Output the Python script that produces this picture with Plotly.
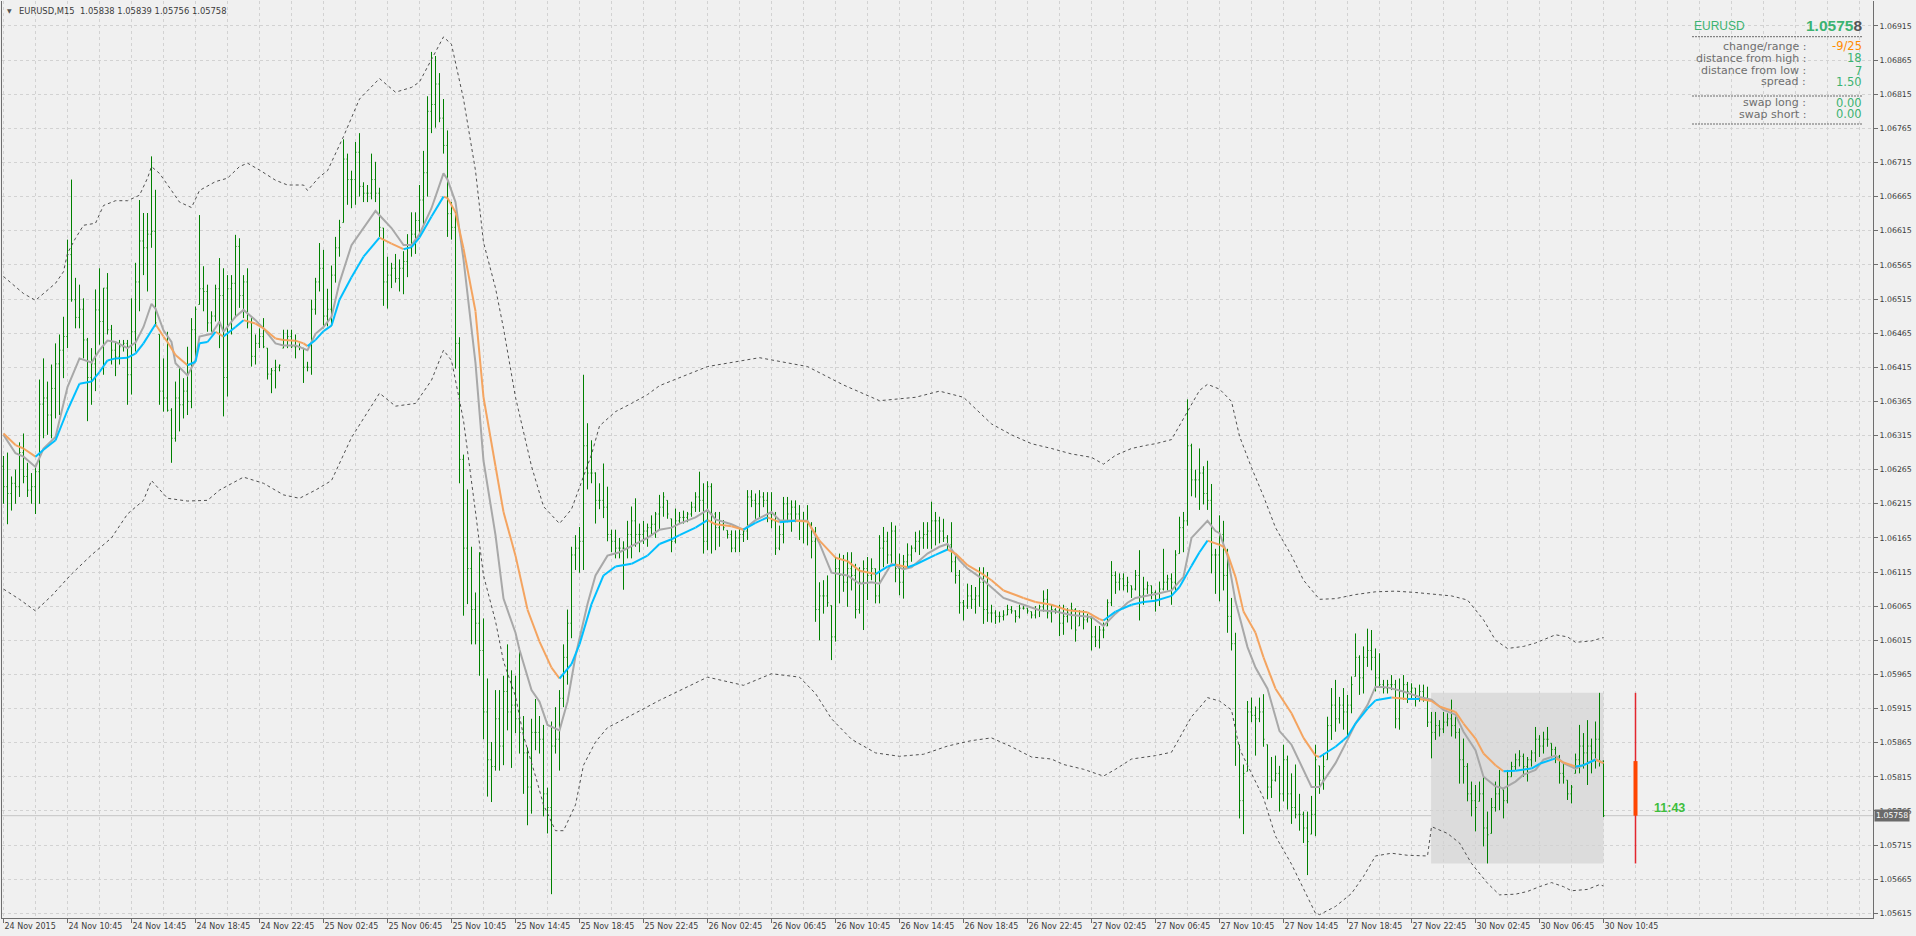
import plotly.graph_objects as go

# ---------------- canvas / plot-area geometry (pixels) ----------------
W, H = 1916, 936
PL, PR, PT, PB = 2, 1873, 1, 918

# ---------------- chart data (prices in points, 1 point = 0.00001) ----------------
symbol = "EURUSD"
timeframe = "M15"

time_labels = ["24 Nov 2015", "24 Nov 10:45", "24 Nov 14:45", "24 Nov 18:45", "24 Nov 22:45",
               "25 Nov 02:45", "25 Nov 06:45", "25 Nov 10:45", "25 Nov 14:45", "25 Nov 18:45",
               "25 Nov 22:45", "26 Nov 02:45", "26 Nov 06:45", "26 Nov 10:45", "26 Nov 14:45",
               "26 Nov 18:45", "26 Nov 22:45", "27 Nov 02:45", "27 Nov 06:45", "27 Nov 10:45",
               "27 Nov 14:45", "27 Nov 18:45", "27 Nov 22:45", "30 Nov 02:45", "30 Nov 06:45",
               "30 Nov 10:45"]
bars_per_label = 16

open_pts = [
106270,106240,106230,106245,106240,106290,106255,106235,106240,106262,
106361,106370,106345,106384,106420,106440,106460,106580,106514,106488,
106500,106455,106400,106420,106499,106482,106531,106470,106440,106430,
106445,106450,106404,106467,106540,106600,106590,106610,106614,106463,
106380,106370,106352,106311,106370,106360,106380,106365,106470,106507,
106530,106526,106480,106490,106530,106520,106400,106530,106538,106592,
106520,106540,106480,106431,106450,106460,106443,106405,106410,106415,
106443,106455,106460,106445,106445,106443,106415,106415,106500,106540,
106560,106490,106500,106550,106590,106627,106720,106690,106690,106730,
106680,106670,106670,106690,106670,106619,106540,106550,106560,106545,
106560,106570,106590,106610,106630,106660,106700,106790,106800,106830,
106780,106740,106640,106620,106450,106280,106150,106120,106060,106040,
106000,105910,105840,105830,105900,105860,105940,105910,105920,105900,
105880,105850,105800,105880,105880,105870,105790,105770,105860,105870,
105930,105990,106040,106140,106150,106160,106300,106260,106260,106220,
106220,106210,106170,106160,106150,106150,106150,106170,106190,106170,
106170,106175,106180,106185,106200,106210,106220,106193,106160,106190,
106195,106195,106200,106210,106225,106220,106160,106240,106200,106180,
106185,106176,106170,106150,106165,106170,106175,106225,106220,106215,
106225,106220,106200,106190,106150,106170,106215,106200,106210,106200,
106190,106190,106185,106160,106060,106080,106080,106066,106020,106120,
106110,106100,106120,106110,106060,106100,106120,106110,106120,106080,
106150,106160,106140,106175,106120,106100,106130,106140,106150,106160,
106165,106170,106175,106190,106190,106175,106165,106155,106130,106110,
106070,106065,106080,106075,106080,106100,106060,106055,106055,106050,
106050,106052,106060,106058,106050,106062,106062,106057,106052,106060,
106064,106075,106055,106060,106058,106040,106050,106055,106060,106036,
106050,106045,106047,106020,106015,106030,106036,106070,106110,106100,
106105,106095,106095,106090,106110,106080,106090,106095,106085,106075,
106090,106100,106105,106100,106142,106180,106190,106300,106250,106250,
106260,106230,106220,106140,106140,106170,106110,106050,106010,105862,
105780,105823,105910,105905,105900,105910,105862,105800,105810,105820,
105790,105840,105790,105770,105760,105760,105740,105731,105760,105831,
105810,105840,105890,105920,105900,105920,105910,105920,105962,105990,
105960,105990,106000,105990,105960,105950,105945,105950,105950,105900,
105940,105950,105940,105945,105930,105940,105930,105895,105880,105890,
105885,105895,105900,105890,105880,105840,105830,105790,105780,105779,
105790,105740,105732,105770,105790,105796,105780,105815,105830,105840,
105845,105830,105840,105850,105870,105860,105870,105864,105855,105845,
105820,105810,105790,105820,105840,105860,105850,105860,105850,105870,
105838]

high_pts = [
106285,106290,106255,106265,106305,106318,106275,106260,106272,106397,
106428,106394,106419,106450,106463,106489,106602,106690,106546,106536,
106516,106458,106443,106529,106560,106531,106553,106477,106453,106455,
106455,106455,106516,106568,106660,106641,106641,106724,106675,106463,
106428,106467,106355,106394,106414,106399,106445,106487,106504,106638,
106563,106536,106497,106536,106575,106560,106550,106550,106609,106604,
106550,106560,106487,106463,106472,106487,106443,106414,106426,106419,
106470,106470,106470,106463,106450,106443,106423,106514,106546,106597,
106587,106530,106564,106606,106631,106749,106728,106703,106745,106758,
106686,106682,106728,106716,106678,106619,106577,106568,106581,106573,
106585,106610,106642,106642,106682,106732,106812,106877,106871,106846,
106808,106762,106657,106644,106459,106287,106236,106152,106085,106144,
106047,105959,105866,105942,105942,105963,106009,105971,105963,106005,
105904,105858,105900,105929,105904,105891,105799,105896,105917,105942,
106009,106060,106152,106169,106181,106404,106333,106308,106261,106245,
106274,106240,106177,106177,106165,106160,106190,106211,106223,106186,
106190,106186,106198,106203,106228,106232,106220,106193,106208,106203,
106205,106203,106218,106232,106262,106245,106248,106245,106203,106203,
106191,106176,106176,106176,106181,106179,106235,106235,106230,106235,
106232,106232,106232,106203,106183,106225,106225,106220,106220,106213,
106203,106213,106188,106181,106100,106103,106110,106066,106137,106142,
106140,106144,106144,106127,106122,106132,106137,106135,106120,106169,
106181,106174,106188,106183,106142,106140,106157,106154,106174,106176,
106188,106188,106218,106203,106196,106193,106169,106188,106140,106118,
106074,106098,106096,106093,106122,106122,106115,106067,106059,106057,
106059,106067,106065,106059,106067,106065,106062,106057,106065,106067,
106088,106090,106067,106062,106067,106067,106062,106070,106062,106059,
106059,106054,106047,106036,106036,106041,106075,106131,106116,106113,
106113,106108,106095,106118,106147,106108,106101,106095,106088,106101,
106149,106111,106113,106147,106196,106203,106368,106303,106265,106296,
106270,106278,106244,106149,106198,106190,106149,106077,106026,105862,
105833,105926,105931,105918,105931,105936,105862,105844,105846,105831,
105862,105846,105820,105833,105790,105764,105764,105787,105862,105831,
105849,105903,105945,105957,105932,105945,105935,105962,106025,105993,
106006,106032,106030,106003,105996,105957,105957,105964,105957,105959,
105964,105954,105952,105945,105950,105950,105947,105910,105910,105898,
105910,105908,105928,105903,105886,105871,105835,105808,105803,105808,
105815,105764,105784,105808,105825,105796,105825,105837,105849,105854,
105849,105844,105854,105888,105876,105881,105888,105864,105859,105847,
105835,105810,105803,105849,105891,105879,105898,105871,105896,105938,
105839]

low_pts = [
106215,106185,106205,106215,106225,106245,106225,106215,106200,106215,
106311,106316,106311,106340,106345,106399,106443,106511,106472,106472,
106428,106336,106360,106380,106448,106404,106463,106419,106402,106419,
106438,106360,106375,106438,106497,106550,106526,106590,106475,106360,
106350,106350,106275,106306,106321,106340,106345,106355,106424,106507,
106497,106467,106467,106482,106443,106343,106372,106463,106487,106502,
106487,106472,106416,106419,106443,106443,106397,106377,106384,106409,
106443,106443,106443,106428,106440,106392,106409,106404,106492,106526,
106472,106475,106476,106539,106577,106627,106653,106648,106653,106665,
106657,106657,106661,106657,106606,106505,106501,106531,106539,106526,
106522,106547,106577,106581,106606,106623,106665,106758,106766,106774,
106728,106606,106602,106413,106245,106051,106068,106009,106009,105963,
105870,105786,105778,105824,105824,105832,105883,105828,105879,105849,
105790,105744,105761,105854,105849,105757,105732,105643,105849,105824,
105917,105950,106018,106118,106114,106118,106236,106245,106186,106207,
106194,106160,106144,106135,106135,106089,106135,106135,106152,106144,
106156,106152,106169,106165,106177,106196,106193,106144,106157,106186,
106186,106188,106196,106203,106203,106142,106147,106142,106147,106152,
106176,106164,106144,106144,106144,106159,106162,106210,106193,106193,
106210,106188,106179,106140,106147,106157,106188,106174,106188,106162,
106157,106154,106135,106042,106015,106054,106064,105986,106013,106069,
106086,106064,106088,106047,106054,106030,106074,106103,106069,106069,
106122,106127,106125,106100,106081,106076,106122,106130,106144,106140,
106149,106149,106149,106154,106157,106159,106147,106115,106098,106054,
106044,106061,106061,106054,106064,106039,106042,106041,106039,106041,
106044,106052,106054,106041,106047,106060,106054,106047,106047,106049,
106057,106047,106041,106054,106021,106023,106041,106031,106013,106036,
106031,106041,106000,106005,106003,106018,106036,106065,106083,106088,
106088,106085,106077,106088,106044,106067,106083,106075,106057,106065,
106088,106088,106067,106088,106142,106144,106183,106226,106224,106206,
106214,106206,106113,106083,106072,106088,106026,106000,105831,105754,
105731,105823,105895,105846,105895,105859,105782,105784,105808,105764,
105779,105767,105746,105754,105736,105718,105671,105731,105728,105790,
105796,105840,105869,105881,105893,105884,105874,105908,105962,105935,
105937,105976,105971,105940,105945,105937,105937,105942,105886,105884,
105928,105923,105928,105918,105925,105925,105888,105842,105869,105874,
105879,105889,105874,105871,105805,105805,105779,105757,105735,105779,
105713,105688,105732,105764,105766,105754,105776,105815,105825,105830,
105815,105808,105830,105837,105844,105849,105859,105842,105835,105805,
105805,105781,105776,105820,105820,105827,105803,105820,105827,105830,
105756]

close_pts = [
106240,106230,106245,106240,106290,106255,106235,106240,106262,106361,
106370,106345,106384,106420,106440,106460,106580,106514,106488,106500,
106455,106400,106420,106499,106482,106531,106470,106440,106430,106445,
106450,106404,106467,106540,106600,106590,106610,106614,106480,106380,
106370,106352,106311,106370,106360,106380,106365,106470,106500,106530,
106526,106480,106490,106530,106520,106400,106530,106538,106592,106520,
106540,106480,106431,106450,106460,106445,106405,106410,106415,106418,
106455,106460,106445,106445,106445,106415,106415,106500,106540,106560,
106490,106500,106550,106590,106620,106720,106690,106690,106730,106680,
106670,106670,106690,106670,106620,106540,106550,106560,106545,106560,
106570,106590,106610,106630,106660,106700,106790,106800,106830,106780,
106740,106640,106620,106450,106280,106150,106120,106060,106040,106000,
105910,105840,105830,105900,105860,105940,105910,105920,105900,105880,
105850,105800,105880,105880,105870,105790,105770,105860,105870,105930,
105990,106040,106140,106150,106160,106300,106260,106260,106220,106220,
106210,106170,106160,106150,106150,106150,106170,106190,106170,106170,
106175,106180,106185,106200,106210,106225,106200,106160,106190,106195,
106195,106200,106210,106225,106220,106160,106240,106200,106180,106185,
106180,106170,106150,106165,106170,106175,106225,106220,106215,106225,
106220,106200,106190,106150,106170,106215,106200,106210,106200,106190,
106190,106185,106160,106060,106080,106080,106070,106020,106120,106110,
106100,106120,106110,106060,106100,106120,106110,106120,106080,106150,
106160,106140,106175,106120,106100,106130,106140,106150,106160,106165,
106170,106175,106190,106190,106175,106165,106155,106130,106110,106070,
106065,106080,106075,106080,106100,106060,106055,106055,106050,106050,
106052,106060,106058,106050,106062,106062,106058,106052,106060,106064,
106075,106055,106060,106058,106040,106050,106055,106060,106030,106050,
106045,106048,106020,106015,106030,106030,106070,106110,106100,106105,
106095,106100,106090,106110,106080,106090,106095,106085,106075,106090,
106100,106105,106100,106140,106180,106190,106300,106250,106250,106260,
106230,106220,106140,106140,106170,106110,106050,106010,105870,105780,
105820,105910,105905,105900,105910,105870,105800,105810,105820,105790,
105840,105790,105770,105760,105760,105740,105720,105760,105840,105810,
105830,105890,105920,105900,105920,105910,105920,105950,105990,105960,
105990,106000,105990,105960,105950,105945,105950,105950,105900,105940,
105950,105940,105945,105930,105940,105930,105895,105880,105890,105885,
105895,105900,105890,105880,105840,105830,105790,105780,105770,105790,
105740,105730,105770,105790,105800,105780,105815,105830,105840,105845,
105830,105840,105850,105870,105860,105870,105870,105855,105845,105820,
105815,105790,105800,105840,105860,105850,105860,105850,105870,105838,
105758]

# slow moving average (slope coloured): bar index / value
ma_slow_bar = [0,3,5,8,10,13,16,19,22,24,26,28,31,33,35,38,40,41,43,46,48,49,51,53,55,58,60,63,65,68,
               70,73,75,76,78,80,82,84,87,90,94,97,100,102,104,107,110,111,113,115,118,120,123,125,128,
               131,134,137,139,142,144,147,150,153,157,161,164,167,169,173,176,178,182,185,188,191,194,
               198,201,204,208,211,214,218,221,223,226,228,233,236,238,241,244,247,250,255,258,262,266,
               271,274,275,278,282,285,288,292,294,297,299,301,304,305,306,308,310,313,315,318,322,325,
               328,329,333,335,336,338,341,343,347,351,354,357,359,363,365,368,370,373,375,378,382,384,
               388,390,393,395,398,400]
ma_slow_pts = [106318,106301,106296,106284,106294,106308,106352,106391,106394,106408,106425,106428,106429,
               106435,106450,106478,106460,106452,106433,106418,106423,106450,106452,106467,106460,106474,
               106484,106479,106472,106457,106455,106454,106450,106446,106455,106468,106476,106514,106547,
               106577,106605,106596,106588,106591,106605,106636,106665,106663,106642,106589,106497,106371,
               106270,106203,106139,106060,106013,105975,105959,105980,106009,106068,106110,106123,106127,
               106139,106156,106163,106169,106180,106191,106185,106182,106177,106187,106195,106188,106190,
               106189,106161,106136,106131,106117,106112,106123,106126,106122,106126,106140,106148,106142,
               106125,106115,106103,106088,106077,106071,106067,106059,106056,106046,106044,106057,106067,
               106071,106073,106080,106093,106124,106144,106161,106155,106152,106142,106108,106057,106026,
               105990,105944,105908,105872,105846,105844,105859,105869,105874,105893,105915,105927,105931,
               105929,105929,105926,105918,105910,105893,105871,105849,105832,105823,105824,105827,105834,
               105842,105836,105830,105832,105840,105835]

# fast moving average (grey)
ma_fast_bar = [0,3,5,8,10,13,16,19,22,24,26,28,31,33,35,37,38,40,42,43,46,48,49,52,54,55,58,60,63,65,68,
               70,73,75,76,78,80,82,84,87,90,93,97,100,102,104,107,110,111,113,115,118,120,123,125,128,
               129,132,134,136,139,141,143,146,148,151,154,158,161,164,167,169,173,176,178,182,185,188,
               192,194,198,201,204,207,211,214,217,219,222,225,227,231,234,236,239,241,244,247,250,255,
               259,263,267,272,275,278,281,283,286,289,292,295,297,301,303,304,306,308,311,313,316,319,
               322,325,327,329,333,336,338,341,343,346,350,354,357,360,363,365,368,370,373,375,378,380,
               383,385,388,390,393,395,398,400]
ma_fast_pts = [106316,106289,106284,106269,106296,106313,106386,106428,106422,106440,106454,106452,106443,
               106451,106474,106508,106501,106469,106452,106421,106403,106425,106460,106464,106482,106467,
               106489,106499,106484,106472,106450,106447,106447,106442,106440,106464,106474,106489,106539,
               106594,106619,106644,106619,106594,106594,106610,106648,106699,106690,106657,106573,106421,
               106278,106169,106076,106026,106001,105942,105925,105891,105883,105925,105992,106068,106110,
               106139,106144,106156,106165,106177,106180,106186,106195,106206,106192,106185,106177,106191,
               106203,106191,106191,106190,106157,106114,106110,106098,106100,106098,106127,106119,106122,
               106142,106152,106156,106132,106120,106108,106093,106077,106067,106059,106057,106052,106049,
               106036,106054,106070,106077,106080,106084,106088,106108,106165,106190,106175,106172,106139,
               106072,106005,105975,105944,105882,105862,105826,105800,105800,105835,105869,105893,105920,
               105947,105946,105940,105932,105928,105913,105906,105881,105854,105815,105801,105798,105808,
               105818,105825,105840,105846,105835,105827,105832,105841,105835]

# upper / lower envelope bands
band_up_bar = [0,3,5,8,10,13,15,16,18,20,23,25,28,31,34,36,37,39,42,44,47,49,53,56,59,61,64,68,71,75,76,
               79,81,85,89,94,98,102,104,107,110,112,115,118,120,123,125,128,132,135,139,142,144,147,149,
               153,157,161,164,176,189,195,201,210,219,228,234,240,247,252,257,262,267,272,275,278,282,
               286,288,292,294,297,299,301,304,307,309,312,315,318,322,325,329,333,338,343,348,353,357,
               362,366,370,373,376,380,383,388,391,393,397,400]
band_up_pts = [106548,106533,106523,106513,106523,106538,106555,106582,106604,106623,106626,106652,106659,
               106659,106667,106692,106709,106699,106674,106657,106649,106674,106687,106692,106709,106714,
               106704,106689,106682,106682,106674,106694,106703,106753,106808,106838,106818,106825,106833,
               106867,106899,106888,106808,106703,106598,106531,106472,106371,106270,106211,106186,106207,
               106240,106287,106329,106350,106362,106375,106388,106416,106429,106423,106416,106389,106366,
               106371,106380,106371,106332,106316,106303,106296,106288,106283,106273,106286,106296,106301,
               106303,106309,106329,106360,106381,106390,106383,106365,106314,106268,106226,106180,106139,
               106103,106075,106076,106082,106086,106087,106085,106083,106080,106074,106045,106015,106003,
               106006,106011,106023,106020,106012,106014,106019]
band_dn_bar = [0,4,8,12,17,22,27,31,35,37,41,46,51,54,60,65,70,74,78,82,87,94,98,103,107,110,112,115,118,
               120,123,125,128,130,133,135,138,140,143,145,148,151,154,158,161,164,176,185,192,199,203,
               207,212,218,224,230,236,242,247,252,257,262,265,270,275,278,282,286,288,292,294,297,300,
               301,304,307,309,312,315,318,322,325,328,329,333,337,340,343,347,351,356,357,361,364,367,
               371,374,378,381,384,387,390,392,396,399,400]
band_dn_pts = [106090,106075,106058,106080,106112,106140,106165,106200,106220,106249,106223,106219,106220,
               106235,106254,106245,106228,106223,106235,106249,106312,106377,106358,106362,106396,106440,
               106425,106337,106203,106110,106043,105984,105933,105875,105816,105774,105736,105736,105774,
               105832,105866,105887,105896,105908,105917,105927,105961,105949,105966,105961,105937,105900,
               105870,105850,105845,105848,105860,105868,105872,105859,105844,105841,105833,105826,105816,
               105826,105841,105844,105846,105851,105872,105903,105923,105931,105926,105913,105856,105820,
               105784,105728,105687,105651,105615,105613,105625,105644,105669,105699,105703,105700,105699,
               105742,105732,105718,105688,105659,105642,105643,105647,105654,105660,105654,105648,105650,
               105657,105655]

# info-panel / range values
range_start_bar = 357
range_high = 1.05938
range_low = 1.05688
bar_open, bar_high, bar_low, bar_close = 1.05838, 1.05839, 1.05756, 1.05758
future_bar = 408
timer_text = "11:43"
panel_rows = [("change/range", "-9/25"), ("distance from high", "18"),
              ("distance from low", "7"), ("spread", "1.50")]
swap_rows = [("swap long", "0.00"), ("swap short", "0.00")]

# ---------------- helpers ----------------
P = lambda v: v / 1e5
def px(x):
    return (x - PL) / (PR - PL)
def py(y):
    return (PB - y) / (PB - PT)

Y_MAX, Y_MIN = 1.069516, 1.056081
X_MIN, X_MAX = -0.375, 467.375

n = len(close_pts)
xs = list(range(n))

BG = "#F0F0F0"
GRID = "#D2D2D2"
AXIS = "#6E6E6E"
TXT = "#3C3C3C"
FONT = "DejaVu Sans"

fig = go.Figure()

# envelope bands
fig.add_trace(go.Scatter(x=band_up_bar, y=[P(v) for v in band_up_pts], mode="lines",
                         line=dict(color="#505050", width=1, dash="3px,3px"), hoverinfo="skip"))
fig.add_trace(go.Scatter(x=band_dn_bar, y=[P(v) for v in band_dn_pts], mode="lines",
                         line=dict(color="#505050", width=1, dash="3px,3px"), hoverinfo="skip"))

# price bars
fig.add_trace(go.Ohlc(x=xs, open=[P(v) for v in open_pts], high=[P(v) for v in high_pts],
                      low=[P(v) for v in low_pts], close=[P(v) for v in close_pts],
                      increasing=dict(line=dict(color="#008000", width=1)),
                      decreasing=dict(line=dict(color="#008000", width=1)),
                      tickwidth=0.25, hoverinfo="skip"))

# fast MA
fig.add_trace(go.Scatter(x=ma_fast_bar, y=[P(v) for v in ma_fast_pts], mode="lines",
                         line=dict(color="#A8A8A8", width=2), hoverinfo="skip"))

# slow MA coloured by slope
bx, by, ox, oy = [], [], [], []
for i in range(len(ma_slow_bar) - 1):
    seg_x = [ma_slow_bar[i], ma_slow_bar[i + 1], None]
    seg_y = [P(ma_slow_pts[i]), P(ma_slow_pts[i + 1]), None]
    if ma_slow_pts[i + 1] >= ma_slow_pts[i]:
        bx += seg_x; by += seg_y
    else:
        ox += seg_x; oy += seg_y
fig.add_trace(go.Scatter(x=ox, y=oy, mode="lines", line=dict(color="#F4A460", width=2),
                         connectgaps=False, hoverinfo="skip"))
fig.add_trace(go.Scatter(x=bx, y=by, mode="lines", line=dict(color="#00BFFF", width=2),
                         connectgaps=False, hoverinfo="skip"))

# range / current-bar projection
fig.add_trace(go.Scatter(x=[future_bar, future_bar], y=[range_low, range_high], mode="lines",
                         line=dict(color="#E3262E", width=1.5), hoverinfo="skip"))
fig.add_trace(go.Scatter(x=[future_bar, future_bar], y=[bar_close, bar_open], mode="lines",
                         line=dict(color="#FF4500", width=4), hoverinfo="skip"))

shapes = []
# range rectangle
shapes.append(dict(type="rect", xref="x", yref="y", x0=range_start_bar - 0.1, x1=n - 1,
                   y0=range_low, y1=range_high, fillcolor="#DCDCDC", line=dict(width=0),
                   layer="below"))
# bid line
shapes.append(dict(type="line", xref="paper", yref="y", x0=0, x1=1, y0=bar_close, y1=bar_close,
                   line=dict(color="#C4C4C4", width=1), layer="below"))
# info panel separators
for yy in (36.7, 96, 124):
    shapes.append(dict(type="line", xref="paper", yref="paper", x0=px(1692), x1=px(1863),
                       y0=py(yy), y1=py(yy), line=dict(color="#6A6A6A", width=1, dash="2px,1px")))

ann = []
# header
ann.append(dict(xref="paper", yref="paper", x=px(5), y=py(11), xanchor="left", yanchor="middle",
                text="▼", showarrow=False, font=dict(family=FONT, size=6, color="#555555")))
ann.append(dict(xref="paper", yref="paper", x=px(17), y=py(11.5), xanchor="left", yanchor="middle",
                text=f"{symbol},{timeframe}  {bar_open:.5f} {bar_high:.5f} {bar_low:.5f} {bar_close:.5f}",
                showarrow=False, font=dict(family=FONT, size=8.4, color=TXT)))
# info panel
ann.append(dict(xref="paper", yref="paper", x=px(1692), y=py(26), xanchor="left", yanchor="middle",
                text=symbol, showarrow=False,
                font=dict(family="Liberation Sans", size=12, color="#3CB371")))
price_str = f"{bar_close:.5f}"
ann.append(dict(xref="paper", yref="paper", x=px(1864), y=py(26), xanchor="right", yanchor="middle",
                text=f"<b>{price_str[:-1]}<span style='color:#555555'>{price_str[-1]}</span></b>",
                showarrow=False, font=dict(family="Liberation Sans", size=15.5, color="#3CB371")))
row_y = [46, 58.3, 70.7, 81.7]
for (lab, val), yy in zip(panel_rows, row_y):
    ann.append(dict(xref="paper", yref="paper", x=px(1808), y=py(yy), xanchor="right", yanchor="middle",
                    text=lab + " :", showarrow=False, font=dict(family=FONT, size=11, color="#6E6E6E")))
    col = "#FF8C00" if val.startswith("-") else "#3CB371"
    ann.append(dict(xref="paper", yref="paper", x=px(1864), y=py(yy), xanchor="right", yanchor="middle",
                    text=val, showarrow=False, font=dict(family=FONT, size=11.5, color=col)))
for (lab, val), yy in zip(swap_rows, [102.7, 114.3]):
    ann.append(dict(xref="paper", yref="paper", x=px(1808), y=py(yy), xanchor="right", yanchor="middle",
                    text=lab + " :", showarrow=False, font=dict(family=FONT, size=11, color="#6E6E6E")))
    ann.append(dict(xref="paper", yref="paper", x=px(1864), y=py(yy), xanchor="right", yanchor="middle",
                    text=val, showarrow=False, font=dict(family=FONT, size=11.5, color="#3CB371")))
# current price label on axis
ann.append(dict(xref="paper", yref="y", x=px(1874), y=bar_close, xanchor="left", yanchor="middle",
                text=f"{bar_close:.5f}", showarrow=False, bgcolor="#6A6A6A", borderpad=1,
                font=dict(family=FONT, size=7.8, color="#FFFFFF")))
# bar timer
ann.append(dict(xref="paper", yref="paper", x=px(1669), y=py(808), xanchor="center", yanchor="middle",
                text=f"<b>{timer_text}</b>", showarrow=False,
                font=dict(family="Liberation Sans", size=12.5, color="#3DBE3D")))

ytick_vals = [round(1.05615 + 0.0005 * k, 5) for k in range(27)]

fig.update_layout(
    width=W, height=H,
    margin=dict(l=PL, r=W - PR, t=PT, b=H - PB),
    paper_bgcolor=BG, plot_bgcolor=BG,
    showlegend=False, hovermode=False,
    shapes=shapes, annotations=ann,
    xaxis=dict(range=[X_MIN, X_MAX], tickmode="array",
               tickvals=[k * bars_per_label for k in range(len(time_labels))],
               ticktext=time_labels, ticks="outside", ticklen=4, tickcolor=AXIS,
               ticklabelposition="outside right",
               tickfont=dict(family=FONT, size=8, color=TXT),
               showgrid=True, gridcolor=GRID, griddash="3px,3px", gridwidth=1,
               minor=dict(tickmode="linear", tick0=0, dtick=bars_per_label // 2, showgrid=True,
                          gridcolor=GRID, griddash="3px,3px", gridwidth=1, ticks=""),
               showline=True, linecolor=AXIS, linewidth=1, zeroline=False,
               rangeslider=dict(visible=False), fixedrange=True),
    yaxis=dict(range=[Y_MIN, Y_MAX], side="right", tickmode="array", tickvals=ytick_vals,
               ticktext=[f"{v:.5f}" for v in ytick_vals], ticks="outside", ticklen=4, tickcolor=AXIS,
               tickfont=dict(family=FONT, size=7.8, color=TXT),
               showgrid=True, gridcolor=GRID, griddash="3px,3px", gridwidth=1,
               showline=True, mirror=True, linecolor=AXIS, linewidth=1, zeroline=False,
               fixedrange=True),
)

fig.write_html("out.html", config={"displayModeBar": False, "staticPlot": True},
               post_script="document.body.style.margin='0';document.body.style.overflow='hidden';")
